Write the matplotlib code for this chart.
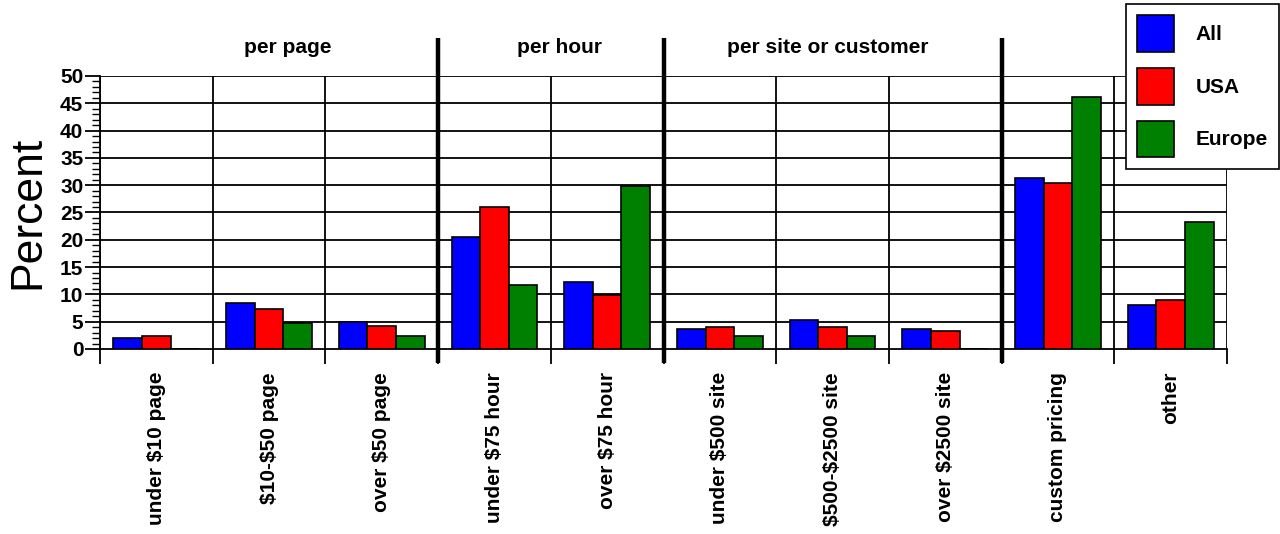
import numpy as np
import matplotlib.pyplot as plt
from matplotlib.patches import Patch

# pricing categories and share of respondents (percent)
categories = ["under $10 page", "$10-$50 page", "over $50 page",
              "under $75 hour", "over $75 hour",
              "under $500 site", "$500-$2500 site", "over $2500 site",
              "custom pricing", "other"]
all_pct = [2.0, 8.4, 4.9, 20.6, 12.2, 3.6, 5.4, 3.6, 31.4, 8.0]
usa_pct = [2.3, 7.4, 4.3, 26.0, 9.8, 4.0, 4.0, 3.3, 30.4, 9.0]
europe_pct = [0.0, 4.8, 2.3, 11.7, 29.9, 2.3, 2.3, 0.0, 46.2, 23.3]

series_names = ["All", "USA", "Europe"]
series_colors = ["#0000ff", "#ff0000", "#008000"]

# group headings and where their text sits (in category units)
group_labels = ["per page", "per hour", "per site or customer"]
group_label_x = [1.17, 3.58, 5.96]
group_breaks = [2.5, 4.5, 7.5]

plt.rcParams['font.family'] = ['Liberation Sans', 'DejaVu Sans']
plt.rcParams['text.parse_math'] = False

fig = plt.figure(figsize=(12.8, 5.34), dpi=100)
ax = fig.add_axes([100 / 1280, 185 / 534, 1127 / 1280, 273 / 534])

x = np.arange(len(categories))
bw = 0.254
for i, (vals, name, col) in enumerate(zip([all_pct, usa_pct, europe_pct],
                                          series_names, series_colors)):
    ax.bar(x + (i - 1) * bw, vals, width=bw, color=col, edgecolor="black",
           linewidth=1.2, label=name, zorder=3)

ax.set_xlim(-0.5, len(categories) - 0.5)
ax.set_ylim(0, 50)

# horizontal grid every 5 units
for yv in range(5, 51, 5):
    ax.axhline(yv, color="black", lw=1.3, zorder=1)

# thin vertical lines between categories, thick ones between groups
for b in np.arange(-0.5, len(categories), 1.0):
    if b in group_breaks:
        ax.plot([b, b], [-2.6, 57], color="black", lw=3.2, zorder=4,
                clip_on=False, solid_capstyle="butt")
    else:
        ax.axvline(b, color="black", lw=1.3, zorder=1)

for label, gx in zip(group_labels, group_label_x):
    ax.text(gx, 55.3, label, ha="center", va="center",
            fontsize=15, fontweight="bold")

for s in ["top", "right"]:
    ax.spines[s].set_visible(False)
for s in ["left", "bottom"]:
    ax.spines[s].set_linewidth(1.3)

ax.set_yticks(range(0, 51, 5))
ax.set_yticks(range(0, 51, 1), minor=True)
ax.tick_params(axis="y", which="major", length=11, width=1.3, labelsize=15,
               pad=1)
ax.tick_params(axis="y", which="minor", length=6, width=1.0)
for t in ax.get_yticklabels():
    t.set_fontweight("bold")

# x ticks sit on the category boundaries, labels at the centres
ax.set_xticks(np.arange(-0.5, len(categories), 1.0))
ax.set_xticklabels([])
ax.tick_params(axis="x", which="major", length=11, width=1.3)
for xi, name in zip(x, categories):
    ax.text(xi, -4.2, name, rotation=90, ha="center", va="top",
            fontsize=15, fontweight="bold")

ax.set_ylabel("Percent", fontsize=32, labelpad=8)

handles = [Patch(facecolor=c, edgecolor="black", linewidth=1.2)
           for c in series_colors]
leg = fig.legend(handles, series_names, loc="upper right",
                 bbox_to_anchor=(1279 / 1280, 1 - 4 / 534),
                 prop={"size": 15, "weight": "bold"},
                 handlelength=1.8, handleheight=2.35, labelspacing=0.75,
                 handletextpad=1.0, borderpad=0.55, borderaxespad=0,
                 fancybox=False, framealpha=1, edgecolor="black")
leg.get_frame().set_linewidth(1.2)

fig.savefig("out.png", dpi=100)
